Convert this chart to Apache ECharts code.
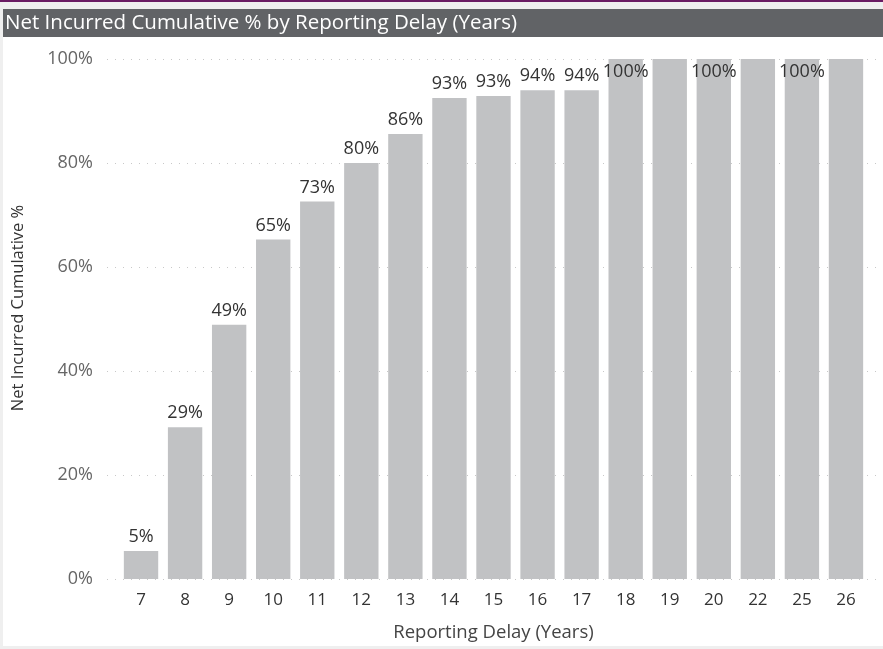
<!DOCTYPE html>
<html>
<head>
<meta charset="utf-8">
<script src="https://cdn.jsdelivr.net/npm/echarts@6/dist/echarts.min.js"></script>
<style>
  html, body { margin: 0; padding: 0; background: #ffffff; }
  #chart { width: 883px; height: 649px; }
</style>
</head>
<body>
<div id="chart"></div>
<script>
// Reporting delay buckets (years) and cumulative net incurred share (%)
const delayYears = ['7', '8', '9', '10', '11', '12', '13', '14', '15', '16', '17', '18', '19', '20', '22', '25', '26'];
const cumulativePct = [5.4, 29.2, 48.9, 65.3, 72.6, 80.0, 85.6, 92.5, 92.9, 94.0, 94.0, 100, 100, 100, 100, 100, 100];
const yTicks = [0, 20, 40, 60, 80, 100];

const titleText = 'Net Incurred Cumulative % by Reporting Delay (Years)';
const xTitle = 'Reporting Delay (Years)';
const yTitle = 'Net Incurred Cumulative %';

const FONT = '"Open Sans", "Noto Sans", sans-serif';
const BAR_COLOR = '#c1c2c4';

// Full-height bars have no room above them, so their label sits inside the top;
// neighbouring full-height labels would collide, so only every other one is kept.
let lastInsideShown = false;
const barData = cumulativePct.map(function (v) {
  if (v >= 100) {
    const show = !lastInsideShown;
    lastInsideShown = show;
    return { value: v, label: { show: show, position: 'insideTop', distance: 4 } };
  }
  lastInsideShown = false;
  return v;
});

const chart = echarts.init(document.getElementById('chart'), null, { renderer: 'canvas' });

chart.setOption({
  animation: false,
  backgroundColor: '#ffffff',
  graphic: [
    // outer frame
    { type: 'rect', left: 0, top: 0, shape: { width: 883, height: 649 }, style: { fill: '#efefef' }, z: -10 },
    { type: 'rect', left: 3, top: 9, shape: { width: 880, height: 637 }, style: { fill: '#ffffff' }, z: -9 },
    // accent strip
    { type: 'rect', left: 0, top: 0, shape: { width: 883, height: 2 }, style: { fill: '#6a1b63' }, z: -8 },
    // title bar
    { type: 'rect', left: 3, top: 9, shape: { width: 880, height: 28 }, style: { fill: '#616366' }, z: -7 },
    {
      type: 'text', left: 5, top: 13,
      style: { text: titleText, fill: '#ffffff', font: '20.5px ' + FONT }
    },
    // y axis title
    {
      type: 'text', rotation: Math.PI / 2, x: 18, y: 308,
      style: { text: yTitle, fill: '#333333', font: '16.5px ' + FONT, align: 'center', verticalAlign: 'middle' }
    }
  ],
  grid: [
    { left: 119, right: 15, top: 59, bottom: 70 },
    { left: 107, right: 2, top: 59, bottom: 70 }
  ],
  xAxis: [
    {
      type: 'category', gridIndex: 0, data: delayYears,
      axisLine: { show: false }, axisTick: { show: false },
      axisLabel: { color: '#333333', fontSize: 17, fontFamily: FONT, margin: 13 },
      name: xTitle, nameLocation: 'middle', nameGap: 44,
      nameTextStyle: { color: '#444444', fontSize: 18.5, fontFamily: FONT }
    },
    { type: 'value', gridIndex: 1, show: false, min: 0, max: 1 }
  ],
  yAxis: [
    { type: 'value', gridIndex: 0, min: 0, max: 100, interval: 20, show: false, splitLine: { show: false } },
    {
      type: 'value', gridIndex: 1, min: yTicks[0], max: yTicks[yTicks.length - 1], interval: yTicks[1] - yTicks[0],
      axisLine: { show: false }, axisTick: { show: false },
      axisLabel: { color: '#666666', fontSize: 18, fontFamily: FONT, margin: 14, formatter: '{value}%' },
      splitLine: { show: true, lineStyle: { color: '#c8c8c8', width: 1, type: [1, 7] } }
    }
  ],
  series: [
    {
      type: 'bar', xAxisIndex: 0, yAxisIndex: 0,
      data: barData,
      barCategoryGap: '22%',
      itemStyle: { color: BAR_COLOR },
      label: {
        show: true, position: 'top', distance: 5,
        color: '#333333', fontSize: 18, fontFamily: FONT,
        formatter: function (p) { return Math.round(p.value) + '%'; }
      },
      z: 3
    }
  ]
});
</script>
</body>
</html>
